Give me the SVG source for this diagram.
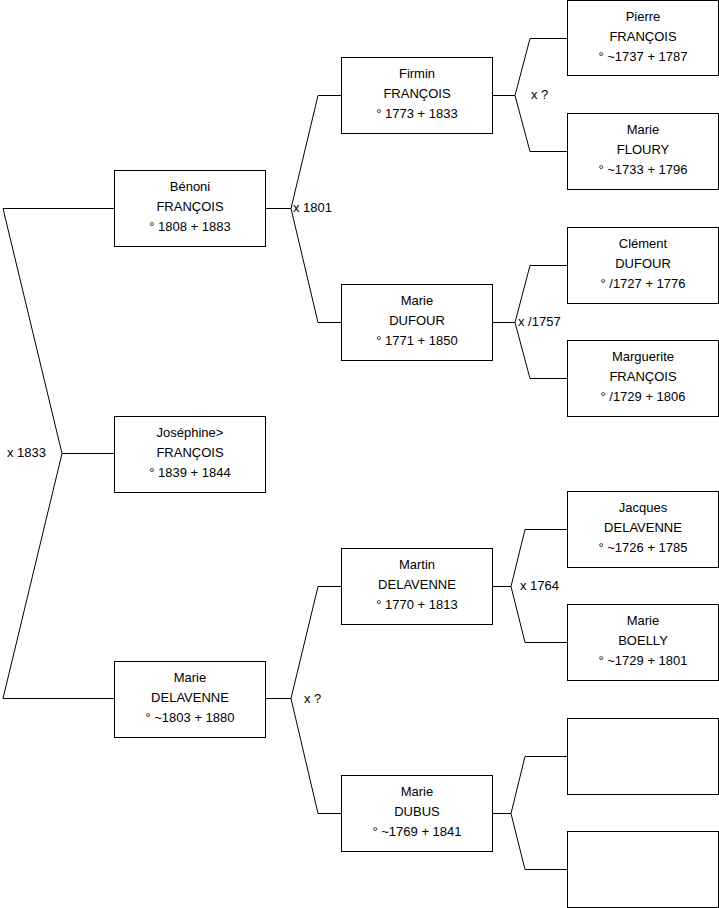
<svg xmlns="http://www.w3.org/2000/svg" width="719" height="908" viewBox="0 0 719 908">
<style>
.box{fill:#fff;stroke:#000;stroke-width:1}
.t{font-family:"Liberation Sans",Arial,sans-serif;font-size:13px;fill:#000;text-anchor:middle}
.l{font-family:"Liberation Sans",Arial,sans-serif;font-size:13px;fill:#000}
.c{fill:none;stroke:#000;stroke-width:1}
</style>
<rect width="719" height="908" fill="#fff"/>
<g id="connectors">
<polyline class="c" points="114,453.5 62,453.5"/>
<polyline class="c" points="62,453.5 3,208.5 114,208.5"/>
<polyline class="c" points="62,453.5 3,698.5 114,698.5"/>
<polyline class="c" points="265,208.5 291,208.5"/>
<polyline class="c" points="291,208.5 318,95.5 341,95.5"/>
<polyline class="c" points="291,208.5 318,322.5 341,322.5"/>
<polyline class="c" points="265,698.5 291,698.5"/>
<polyline class="c" points="291,698.5 318,586.5 341,586.5"/>
<polyline class="c" points="291,698.5 318,813.5 341,813.5"/>
<polyline class="c" points="492,95.5 515,95.5"/>
<polyline class="c" points="515,95.5 530,38.5 567,38.5"/>
<polyline class="c" points="515,95.5 530,151.5 567,151.5"/>
<polyline class="c" points="492,322.5 515,322.5"/>
<polyline class="c" points="515,322.5 530,265.5 567,265.5"/>
<polyline class="c" points="515,322.5 530,378.5 567,378.5"/>
<polyline class="c" points="492,586.5 511,586.5"/>
<polyline class="c" points="511,586.5 525,529.5 567,529.5"/>
<polyline class="c" points="511,586.5 525,642.5 567,642.5"/>
<polyline class="c" points="492,813.5 511,813.5"/>
<polyline class="c" points="511,813.5 525,756.5 567,756.5"/>
<polyline class="c" points="511,813.5 525,869.5 567,869.5"/>
<text class="l" x="7" y="457">x 1833</text>
<text class="l" x="293" y="212">x 1801</text>
<text class="l" x="304" y="703">x ?</text>
<text class="l" x="531" y="99">x ?</text>
<text class="l" x="518" y="326">x /1757</text>
<text class="l" x="520" y="590">x 1764</text>
</g>
<g id="benoni"><rect class="box" x="114.5" y="170.5" width="151" height="76"/>
<text class="t" x="190" y="191">Bénoni</text><text class="t" x="190" y="211">FRANÇOIS</text><text class="t" x="190" y="231">° 1808 + 1883</text></g>
<g id="josephine"><rect class="box" x="114.5" y="416.5" width="151" height="76"/>
<text class="t" x="190" y="437">Joséphine&gt;</text><text class="t" x="190" y="457">FRANÇOIS</text><text class="t" x="190" y="477">° 1839 + 1844</text></g>
<g id="marie-delavenne"><rect class="box" x="114.5" y="661.5" width="151" height="76"/>
<text class="t" x="190" y="682">Marie</text><text class="t" x="190" y="702">DELAVENNE</text><text class="t" x="190" y="722">° ~1803 + 1880</text></g>
<g id="firmin"><rect class="box" x="341.5" y="57.5" width="151" height="76"/>
<text class="t" x="417" y="78">Firmin</text><text class="t" x="417" y="98">FRANÇOIS</text><text class="t" x="417" y="118">° 1773 + 1833</text></g>
<g id="marie-dufour"><rect class="box" x="341.5" y="284.5" width="151" height="76"/>
<text class="t" x="417" y="305">Marie</text><text class="t" x="417" y="325">DUFOUR</text><text class="t" x="417" y="345">° 1771 + 1850</text></g>
<g id="martin"><rect class="box" x="341.5" y="548.5" width="151" height="76"/>
<text class="t" x="417" y="569">Martin</text><text class="t" x="417" y="589">DELAVENNE</text><text class="t" x="417" y="609">° 1770 + 1813</text></g>
<g id="marie-dubus"><rect class="box" x="341.5" y="775.5" width="151" height="76"/>
<text class="t" x="417" y="796">Marie</text><text class="t" x="417" y="816">DUBUS</text><text class="t" x="417" y="836">° ~1769 + 1841</text></g>
<g id="pierre"><rect class="box" x="567.5" y="0.5" width="151" height="75"/>
<text class="t" x="643" y="21">Pierre</text><text class="t" x="643" y="41">FRANÇOIS</text><text class="t" x="643" y="61">° ~1737 + 1787</text></g>
<g id="marie-floury"><rect class="box" x="567.5" y="113.5" width="151" height="76"/>
<text class="t" x="643" y="134">Marie</text><text class="t" x="643" y="154">FLOURY</text><text class="t" x="643" y="174">° ~1733 + 1796</text></g>
<g id="clement"><rect class="box" x="567.5" y="227.5" width="151" height="76"/>
<text class="t" x="643" y="248">Clément</text><text class="t" x="643" y="268">DUFOUR</text><text class="t" x="643" y="288">° /1727 + 1776</text></g>
<g id="marguerite"><rect class="box" x="567.5" y="340.5" width="151" height="76"/>
<text class="t" x="643" y="361">Marguerite</text><text class="t" x="643" y="381">FRANÇOIS</text><text class="t" x="643" y="401">° /1729 + 1806</text></g>
<g id="jacques"><rect class="box" x="567.5" y="491.5" width="151" height="76"/>
<text class="t" x="643" y="512">Jacques</text><text class="t" x="643" y="532">DELAVENNE</text><text class="t" x="643" y="552">° ~1726 + 1785</text></g>
<g id="marie-boelly"><rect class="box" x="567.5" y="604.5" width="151" height="76"/>
<text class="t" x="643" y="625">Marie</text><text class="t" x="643" y="645">BOELLY</text><text class="t" x="643" y="665">° ~1729 + 1801</text></g>
<g id="empty-1"><rect class="box" x="567.5" y="718.5" width="151" height="76"/></g>
<g id="empty-2"><rect class="box" x="567.5" y="831.5" width="151" height="76"/></g>
</svg>
